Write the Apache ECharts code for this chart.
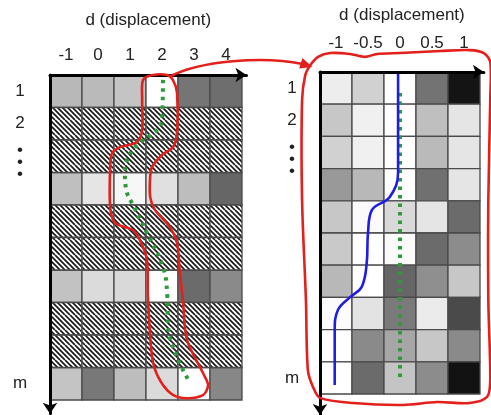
<!DOCTYPE html>
<html>
<head>
<meta charset="utf-8">
<script src="https://cdn.jsdelivr.net/npm/echarts@6/dist/echarts.min.js"></script>
<style>
  html, body { margin: 0; padding: 0; background: #ffffff; }
  #main { width: 491px; height: 415px; }
</style>
</head>
<body>
<div id="main"></div>
<script>
// ---------- left panel: integer displacements ----------
const leftDisplacements = [-1, 0, 1, 2, 3, 4];
const leftMeasuredRows = [1, 4, 7, 10];
// cell lightness in percent (0 = black, 100 = white), one list per measured row
const leftMeasuredShades = [
  [72, 73, 77, 100, 46, 43],
  [75, 90, 97, 88, 74, 40],
  [76, 86, 85, 100, 42, 54],
  [77, 47, 74, 86, 100, 53]
];
const leftHatchedRows = [2, 3, 5, 6, 8, 9];
// estimated displacement path (green dots)
const leftPathD   = [2.03, 2.0, 1.09, 0.84, 0.9, 1.06, 1.53, 2.03, 2.16, 2.19, 2.47, 2.88];
const leftPathRow = [0.65, 1.88, 2.8, 3.5, 4.1, 4.44, 5.36, 6.4, 7.2, 8.25, 9.18, 9.98];
// red outline around the path
const leftOutlineD   = [1.72, 2.16, 2.34, 2.47, 2.47, 2.34, 2.0, 1.69, 1.63, 1.63, 1.78, 2.25, 2.47, 2.56, 2.66, 2.78, 3.28, 3.44, 3.28, 2.66, 2.25, 1.88, 1.69, 1.56, 1.53, 1.31, 1.09, 0.53, 0.38, 0.38, 0.44, 0.69, 1.22, 1.38, 1.38, 1.41];
const leftOutlineRow = [0.5, 0.5, 0.65, 1.05, 2.28, 2.72, 2.96, 3.33, 3.64, 4.25, 4.65, 5.18, 5.67, 6.59, 7.52, 8.65, 9.67, 10.04, 10.35, 10.44, 10.28, 9.79, 9.18, 7.33, 6.19, 5.58, 5.27, 5.05, 4.56, 3.33, 2.9, 2.72, 2.56, 2.19, 1.27, 0.65];

// ---------- right panel: sub-pixel displacements ----------
const rightDisplacements = [-1, -0.5, 0, 0.5, 1];
const rightShades = [
  [93, 82, 100, 45, 8],
  [78, 94, 100, 75, 90],
  [82, 94, 100, 73, 90],
  [60, 72, 100, 44, 90],
  [78, 98, 85, 90, 42],
  [79, 100, 98, 42, 55],
  [72, 100, 40, 56, 78],
  [99, 89, 48, 92, 29],
  [100, 54, 65, 78, 54],
  [100, 42, 77, 55, 7]
];
// refined path (blue) and zero-displacement reference (green dots)
const rightPathD   = [-0.03, -0.03, -0.16, -0.44, -0.5, -0.52, -0.6, -0.78, -0.97, -1.02, -1.02];
const rightPathRow = [0.53, 3.64, 4.38, 4.79, 5.5, 6.43, 7.18, 7.49, 7.89, 8.51, 10.22];
const rightZeroD   = [0, 0];
const rightZeroRow = [1.15, 10.05];
// red outline enclosing the whole right panel
const rightOutlineD   = [-1.41, -1.28, -1.09, -0.78, -0.55, -0.36, 0, 0.63, 1.09, 1.31, 1.41, 1.41, 1.38, 1.38, 1.41, 1.36, 1.09, 0.58, 0.05, -0.73, -1.25, -1.36, -1.44, -1.47, -1.53, -1.53, -1.48];
const rightOutlineRow = [0.31, 0.03, -0.09, -0.06, 0.03, -0.06, -0.09, -0.15, -0.18, -0.09, 0.19, 1.37, 4.48, 7.58, 10.07, 10.59, 10.78, 10.75, 10.84, 10.78, 10.62, 10.28, 9.75, 7.58, 4.48, 1.37, 0.59];

// row labels shared by both panels
const rowTickRows = [1, 2, 3.2, 10];
const rowTickText = ['1', '2', '\u2022\n\u2022\n\u2022', 'm'];

// ---------- layout ----------
const FONT = 'Liberation Sans, Arial, sans-serif';
const RED = '#e3201c';
// colW = pixels per displacement unit, rowH = pixels per row
const L = { left: 50, top: 75, colW: 32, rowH: 32.5, xMin: -1.5, xMax: 4.64, yMin: 0.5, yMax: 10.92 };
const R = { left: 320, top: 72, colW: 64, rowH: 32.2, xMin: -1.25, xMax: 1.31, yMin: 0.5, yMax: 11.15 };

function zip(a, b) { return a.map((v, i) => [v, b[i]]); }
function grey(p) { const v = Math.round(p * 2.55); return 'rgb(' + v + ',' + v + ',' + v + ')'; }

function hatchPattern() {
  const S = 15, p = 5;
  const c = document.createElement('canvas');
  c.width = S; c.height = S;
  const g = c.getContext('2d');
  g.fillStyle = '#ffffff';
  g.fillRect(0, 0, S, S);
  g.strokeStyle = '#1a1a1a';
  g.lineWidth = 1.7;
  for (let k = -S; k <= 2 * S; k += p) {
    g.beginPath(); g.moveTo(k, 0); g.lineTo(k + S, S); g.stroke();
  }
  return c;
}
const hatch = { image: hatchPattern(), repeat: 'repeat' };

const leftCells = [];
leftMeasuredRows.forEach((r, i) => leftDisplacements.forEach((d, j) => leftCells.push([d, r, leftMeasuredShades[i][j]])));
const leftHatchCells = [];
leftHatchedRows.forEach(r => leftDisplacements.forEach(d => leftHatchCells.push([d, r])));
const rightCells = [];
rightShades.forEach((row, i) => rightDisplacements.forEach((d, j) => rightCells.push([d, i + 1, row[j]])));

function cellRenderer(step, patterned) {
  return function (params, api) {
    const c = api.coord([api.value(0), api.value(1)]);
    const s = api.size([step, 1]);
    return {
      type: 'rect',
      shape: { x: c[0] - s[0] / 2, y: c[1] - s[1] / 2, width: s[0], height: s[1] },
      style: { fill: patterned ? hatch : grey(api.value(2)), stroke: '#4a4a4a', lineWidth: 1.3 }
    };
  };
}

function gridBox(G) {
  return { left: G.left, top: G.top, width: (G.xMax - G.xMin) * G.colW, height: (G.yMax - G.yMin) * G.rowH };
}

function axisLine(symbol) {
  return { show: true, onZero: false, symbol: symbol, symbolSize: [11, 11], lineStyle: { color: '#000', width: 3 } };
}
const labelFont = { fontFamily: FONT, fontSize: 17, color: '#222' };

function xAxisFor(G, idx, ticks, labelMargin, nameGap) {
  return {
    type: 'value', gridIndex: idx, position: 'top', min: G.xMin, max: G.xMax, z: 10,
    name: 'd (displacement)', nameLocation: 'middle', nameGap: nameGap,
    nameTextStyle: { fontFamily: FONT, fontSize: 17, color: '#222' },
    axisLine: axisLine(['none', 'arrow']), axisTick: { show: false }, splitLine: { show: false },
    axisLabel: Object.assign({ customValues: ticks, margin: labelMargin, showMinLabel: true, showMaxLabel: true }, labelFont)
  };
}
function yAxisFor(G, idx, margin) {
  return {
    type: 'value', gridIndex: idx, inverse: true, min: G.yMin, max: G.yMax, z: 10,
    axisLine: axisLine(['arrow', 'none']), axisTick: { show: false }, splitLine: { show: false },
    axisLabel: Object.assign({
      customValues: rowTickRows, margin: margin, align: 'center', lineHeight: 12,
      formatter: v => rowTickText[rowTickRows.indexOf(v)] || ''
    }, labelFont)
  };
}

const option = {
  animation: false,
  backgroundColor: '#ffffff',
  grid: [
    Object.assign({ containLabel: false }, gridBox(L)),
    Object.assign({ containLabel: false }, gridBox(R))
  ],
  xAxis: [
    xAxisFor(L, 0, leftDisplacements, 11, 46),
    xAxisFor(R, 1, rightDisplacements, 20, 48)
  ],
  yAxis: [yAxisFor(L, 0, 30), yAxisFor(R, 1, 28)],
  series: [
    { type: 'custom', xAxisIndex: 0, yAxisIndex: 0, z: 1, renderItem: cellRenderer(1, false), data: leftCells },
    { type: 'custom', xAxisIndex: 0, yAxisIndex: 0, z: 1, renderItem: cellRenderer(1, true), data: leftHatchCells },
    { type: 'custom', xAxisIndex: 1, yAxisIndex: 1, z: 1, renderItem: cellRenderer(0.5, false), data: rightCells },
    { type: 'line', xAxisIndex: 0, yAxisIndex: 0, z: 4, data: zip(leftPathD, leftPathRow), smooth: 0.4, showSymbol: false,
      lineStyle: { color: '#2e9a3c', width: 4, type: [3.5, 5] } },
    { type: 'line', xAxisIndex: 1, yAxisIndex: 1, z: 4, data: zip(rightZeroD, rightZeroRow), showSymbol: false,
      lineStyle: { color: '#2e9a3c', width: 4, type: [3.5, 5] } },
    { type: 'line', xAxisIndex: 1, yAxisIndex: 1, z: 5, data: zip(rightPathD, rightPathRow), smooth: 0.4, showSymbol: false,
      lineStyle: { color: '#1d1de6', width: 2.6 } }
  ]
};

const chart = echarts.init(document.getElementById('main'), null, { renderer: 'canvas' });
chart.setOption(option);

// annotation outlines and the connector arrow, placed through each grid's coordinates
const toLeft = pt => chart.convertToPixel({ gridIndex: 0 }, pt);
const toRight = pt => chart.convertToPixel({ gridIndex: 1 }, pt);

const p0 = toLeft([2.25, 0.55]);
const p1 = toRight([-1.52, 0.25]);
const ang = Math.atan2(4, 13);
const tip = [p1[0] + 10 * Math.cos(ang), p1[1] + 10 * Math.sin(ang)];
const back = [tip[0] - 12 * Math.cos(ang), tip[1] - 12 * Math.sin(ang)];
const nx = -Math.sin(ang) * 5.5, ny = Math.cos(ang) * 5.5;

chart.setOption({
  graphic: [
    { type: 'polygon', z: 20,
      shape: { points: zip(leftOutlineD, leftOutlineRow).map(toLeft), smooth: 0.3 },
      style: { stroke: RED, lineWidth: 2.6, fill: null } },
    { type: 'polygon', z: 20,
      shape: { points: zip(rightOutlineD, rightOutlineRow).map(toRight), smooth: 0.3 },
      style: { stroke: RED, lineWidth: 2.6, fill: null } },
    { type: 'bezierCurve', z: 20,
      shape: { x1: p0[0], y1: p0[1], cpx1: p0[0] + 30, cpy1: p0[1] - 16, cpx2: p1[0] - 40, cpy2: p1[1] - 8, x2: p1[0], y2: p1[1] },
      style: { stroke: RED, lineWidth: 2.6, fill: null } },
    { type: 'polygon', z: 20,
      shape: { points: [tip, [back[0] + nx, back[1] + ny], [back[0] - nx, back[1] - ny]] },
      style: { fill: RED } }
  ]
});
</script>
</body>
</html>
